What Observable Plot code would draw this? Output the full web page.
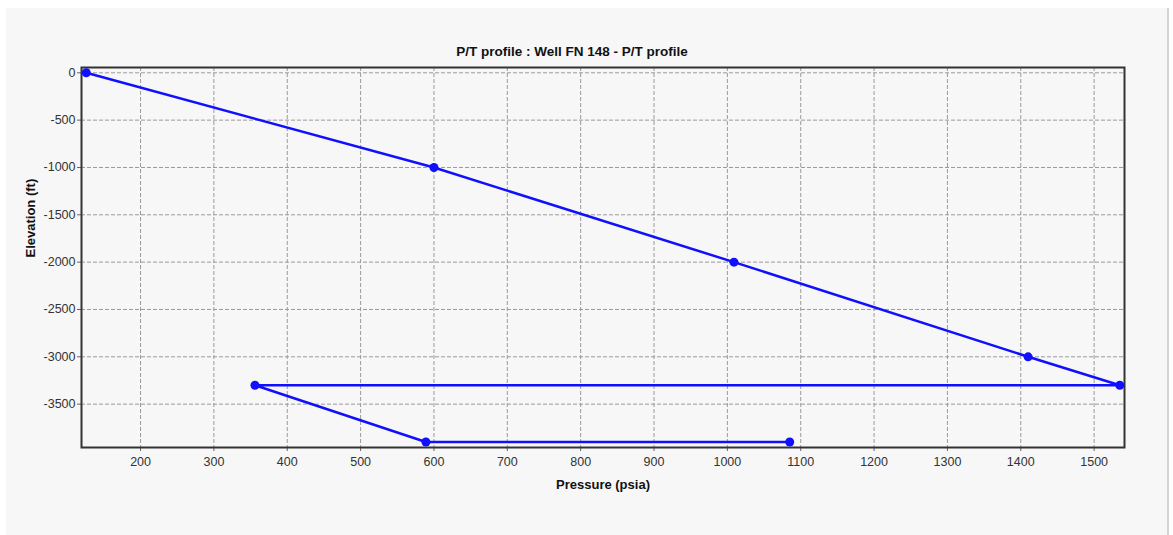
<!DOCTYPE html>
<html>
<head>
<meta charset="utf-8">
<script src="https://cdn.jsdelivr.net/npm/d3@7"></script>
<script src="https://cdn.jsdelivr.net/npm/@observablehq/plot@0.6"></script>
<style>
  html, body { margin: 0; padding: 0; background: #ffffff; }
  #wrap { position: relative; width: 1173px; height: 535px; overflow: hidden; }
  #panel { position: absolute; left: 6px; top: 8px; width: 1161px; height: 527px; background: #f7f7f7; border-right: 2px solid #d4d4d4; }
  #chart { position: absolute; left: 0; top: 0; }
  #chart svg { background: transparent !important; }
</style>
</head>
<body>
<div id="wrap">
  <div id="panel"></div>
  <div id="chart"></div>
</div>
<script>
const title = "P/T profile : Well FN 148 - P/T profile";
const xLabel = "Pressure (psia)";
const yLabel = "Elevation (ft)";
const pressure = [126, 600, 1009, 1410, 1535, 356, 589, 1085];
const elevation = [0, -1000, -2000, -3000, -3300, -3300, -3900, -3900];
const xTicks = [200, 300, 400, 500, 600, 700, 800, 900, 1000, 1100, 1200, 1300, 1400, 1500];
const yTicks = [0, -500, -1000, -1500, -2000, -2500, -3000, -3500];

const data = pressure.map((p, i) => ({p, e: elevation[i]}));
const font = "'Liberation Sans', Arial, sans-serif";
const blue = "#1010ff";
const fmt = d => String(d);

const chart = Plot.plot({
  width: 1173,
  height: 535,
  marginLeft: 81,
  marginRight: 49,
  marginTop: 67,
  marginBottom: 88,
  style: {fontFamily: font, fontSize: "12px", color: "#333", background: "transparent"},
  x: {domain: [119.5, 1541.4], ticks: xTicks},
  y: {domain: [-3958, 56], ticks: yTicks},
  marks: [
    Plot.gridX(xTicks, {stroke: "#9a9a9a", strokeOpacity: 1, strokeDasharray: "4,2", strokeWidth: 1}),
    Plot.gridY(yTicks, {stroke: "#9a9a9a", strokeOpacity: 1, strokeDasharray: "4,2", strokeWidth: 1}),
    Plot.axisX(xTicks, {label: null, tickFormat: fmt, tickSize: 4, tickPadding: 6, stroke: "#666", fill: "#333", fontSize: 12.5}),
    Plot.axisY(yTicks, {label: null, tickFormat: fmt, tickSize: 4, tickPadding: 2, stroke: "#666", fill: "#333", fontSize: 12.5}),
    Plot.frame({stroke: "#333", strokeWidth: 2}),
    Plot.line(data, {x: "p", y: "e", stroke: blue, strokeWidth: 2.5}),
    Plot.dot(data, {x: "p", y: "e", fill: blue, r: 4.5}),
    Plot.text([title], {frameAnchor: "top", dy: -21, dx: -31, fontWeight: "bold", fontSize: 13.5, fill: "#111"}),
    Plot.text([xLabel], {frameAnchor: "bottom", dy: 41, fontWeight: "bold", fontSize: 13, fill: "#111"}),
    Plot.text([yLabel], {frameAnchor: "left", dx: -51, rotate: -90, fontWeight: "bold", fontSize: 13, fill: "#111"})
  ]
});
document.getElementById("chart").appendChild(chart);
</script>
</body>
</html>
